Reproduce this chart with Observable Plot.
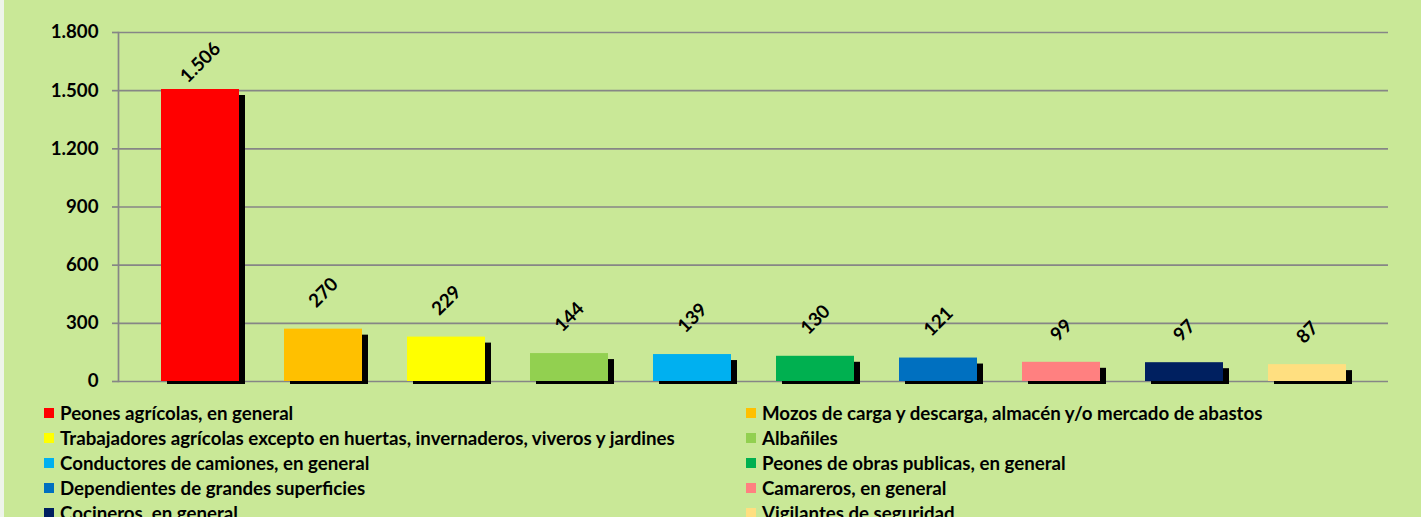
<!DOCTYPE html>
<html>
<head>
<meta charset="utf-8">
<script src="https://cdn.jsdelivr.net/npm/d3@7"></script>
<script src="https://cdn.jsdelivr.net/npm/@observablehq/plot@0.6"></script>
<style>
  html, body { margin: 0; padding: 0; }
  body { width: 1421px; height: 517px; overflow: hidden; background: #c9e897; font-family: Lato, "Open Sans", sans-serif; }
  #wrap { position: relative; width: 1421px; height: 517px; background: #c9e897; border-left: 4px solid #eef4ea; box-sizing: border-box; margin-left: 0; }
  #chart { position: absolute; left: -4px; top: 0; }
  #legend { position: absolute; left: -4px; top: 400px; width: 1421px; display: grid; grid-template-columns: 702px 600px; padding-left: 44px; box-sizing: border-box; }
  .item { height: 25px; display: flex; align-items: center; font-weight: bold; font-size: 18.7px; color: #000; white-space: nowrap; }
  .sw { width: 10px; height: 10px; margin-right: 6px; flex: none; }
</style>
</head>
<body>
<div id="wrap">
  <div id="chart"></div>
  <div id="legend"></div>
</div>
<script>
const categories = [
  "Peones agrícolas, en general",
  "Mozos de carga y descarga, almacén y/o mercado de abastos",
  "Trabajadores agrícolas excepto en huertas, invernaderos, viveros y jardines",
  "Albañiles",
  "Conductores de camiones, en general",
  "Peones de obras publicas, en general",
  "Dependientes de grandes superficies",
  "Camareros, en general",
  "Cocineros, en general",
  "Vigilantes de seguridad"
];
const values = [1506, 270, 229, 144, 139, 130, 121, 99, 97, 87];
const colors = ["#ff0000", "#ffc000", "#ffff00", "#92d050", "#00b0f0", "#00b050", "#0070c0", "#ff8080", "#002060", "#ffdf80"];
const yTicks = [0, 300, 600, 900, 1200, 1500, 1800];

const locale = d3.formatLocale({decimal: ",", thousands: ".", grouping: [3], currency: ["", "€"]});
const fmt = locale.format(",d");

const data = categories.map((c, i) => ({cat: c, value: values[i], color: colors[i], label: fmt(values[i])}));

// label offsets by label length (Excel places rotated labels differently by size)
const labelDy = {2: -32, 3: -36.5, 5: -27};
const labelMarks = Object.keys(labelDy).map(n => Plot.text(data, {
  filter: d => d.label.length === +n,
  x: "cat", y: "value", text: "label",
  dy: labelDy[n], rotate: -45, textAnchor: "middle",
  fontSize: 18.7, fontWeight: "bold", fill: "#000", fontFamily: "Lato, sans-serif"
}));

const chart = Plot.plot({
  width: 1421,
  height: 400,
  marginLeft: 118,
  marginRight: 33,
  marginTop: 32,
  marginBottom: 19,
  style: {background: "transparent", fontFamily: "Lato, sans-serif"},
  x: {domain: categories, paddingInner: 0.366, paddingOuter: 0.3455, axis: null},
  y: {domain: [0, 1800], axis: null},
  color: {type: "identity"},
  marks: [
    Plot.ruleY(yTicks, {stroke: "#868686", strokeWidth: 1.7}),
    Plot.frame({anchor: "left", stroke: "#868686", strokeWidth: 1.7}),
    Plot.axisY({ticks: yTicks, tickSize: 6, tickPadding: 14, tickFormat: fmt, label: null, stroke: "#868686", fontSize: 18.7, fontWeight: "bold", fill: "#000", strokeWidth: 1.7}),
    Plot.barY(data, {x: "cat", y: "value", fill: "#000", dx: 6, dy: 6, insetBottom: 3}),
    Plot.barY(data, {x: "cat", y: "value", fill: "color"}),
    ...labelMarks
  ]
});
document.getElementById("chart").appendChild(chart);

const legend = document.getElementById("legend");
data.forEach(d => {
  const it = document.createElement("div");
  it.className = "item";
  const sw = document.createElement("span");
  sw.className = "sw";
  sw.style.background = d.color;
  it.appendChild(sw);
  it.appendChild(document.createTextNode(d.cat));
  legend.appendChild(it);
});
</script>
</body>
</html>
